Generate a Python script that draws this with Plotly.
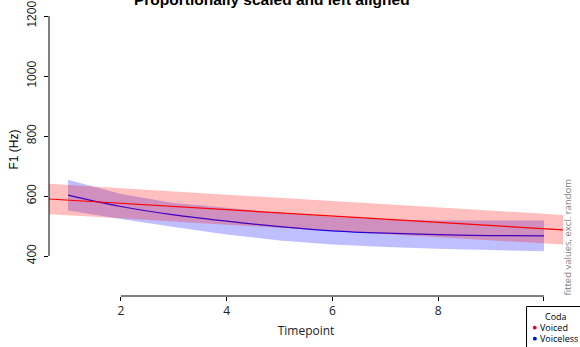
import plotly.graph_objects as go

# ---- data ----
red_t = [0.64, 2, 4, 6, 8, 10.36]
red_fit = [590, 575.6, 554.4, 533.2, 512, 487]
red_upper = [641, 625.6, 604.4, 583.2, 562, 537]
red_lower = [539, 525.6, 504.4, 483.2, 462, 438]

blue_t = [1, 2, 3, 4, 5, 6, 7, 8, 9, 10]
blue_fit = [603, 565, 537, 516, 498, 484, 476, 471, 468, 467]
blue_upper = [654, 607, 577, 560, 544, 530, 522, 518, 517, 518]
blue_lower = [552, 523, 497, 472, 452, 438, 430, 424, 419, 416]

x_ticks = [2, 4, 6, 8, 10]
y_ticks = [400, 600, 800, 1000, 1200]
legend_title = "Coda"
legend_labels = ["Voiced", "Voiceless"]
colors = ["#ff0000", "#0000ff"]

W, H = 580, 347
L, R, T, B = 49, 563.5, 16, 296

def px(xp):
    return (xp - L) / (R - L)

def py(yp):
    return (B - yp) / (B - T)

fig = go.Figure()

# blue band + line
fig.add_trace(go.Scatter(x=blue_t + blue_t[::-1], y=blue_upper + blue_lower[::-1],
                         fill="toself", fillcolor="rgba(0,0,255,0.25)",
                         line=dict(width=0), mode="lines", hoverinfo="skip", showlegend=False))
fig.add_trace(go.Scatter(x=blue_t, y=blue_fit, mode="lines", line_shape="spline",
                         line=dict(color=colors[1], width=1.2), name=legend_labels[1], showlegend=False))
# red band + line
fig.add_trace(go.Scatter(x=red_t + red_t[::-1], y=red_upper + red_lower[::-1],
                         fill="toself", fillcolor="rgba(255,0,0,0.25)",
                         line=dict(width=0), mode="lines", hoverinfo="skip", showlegend=False))
fig.add_trace(go.Scatter(x=red_t, y=red_fit, mode="lines",
                         line=dict(color=colors[0], width=1.2), name=legend_labels[0], showlegend=False))

shapes = [
    dict(type="line", xref="paper", yref="y", x0=0, x1=0, y0=y_ticks[0], y1=y_ticks[-1],
         line=dict(color="black", width=1)),
    dict(type="line", xref="x", yref="paper", x0=x_ticks[0], x1=x_ticks[-1], y0=0, y1=0,
         line=dict(color="black", width=1)),
    dict(type="rect", xref="paper", yref="paper", x0=px(527), x1=px(600), y0=py(306.5), y1=py(370),
         fillcolor="white", line=dict(color="black", width=1), layer="above"),
]

annotations = [
    dict(text="<b>Proportionally scaled and left aligned</b>", xref="paper", yref="paper",
         x=px(272), y=py(-1), xanchor="center", yanchor="middle", showarrow=False,
         font=dict(family="Liberation Sans", size=15.5, color="black")),
    dict(text="F1 (Hz)", xref="paper", yref="paper", x=px(13), y=py(149.5),
         xanchor="center", yanchor="middle", textangle=-90, showarrow=False,
         font=dict(family="Liberation Sans", size=12, color="black")),
    dict(text="fitted values, excl. random", xref="paper", yref="paper", x=px(568), y=py(237),
         xanchor="center", yanchor="middle", textangle=-90, showarrow=False,
         font=dict(family="Open Sans", size=9.5, color="#808080")),
    dict(text=legend_title, xref="paper", yref="paper", x=px(556), y=py(315.5),
         xanchor="center", yanchor="middle", showarrow=False, borderpad=0, height=10,
         font=dict(family="Open Sans", size=9, color="black")),
]
for i, (lab, col) in enumerate(zip(legend_labels, colors)):
    yy = 326.5 + i * 11
    annotations.append(dict(text="●", xref="paper", yref="paper", x=px(535.5), y=py(yy),
                            xanchor="center", yanchor="middle", showarrow=False, borderpad=0,
                            width=4, height=8,
                            font=dict(family="DejaVu Sans", size=5, color=col)))
    annotations.append(dict(text=lab, xref="paper", yref="paper", x=px(539.5), y=py(yy),
                            xanchor="left", yanchor="middle", showarrow=False, borderpad=0,
                            height=10, align="left",
                            font=dict(family="Open Sans", size=9, color="black")))

fig.update_layout(
    width=W, height=H,
    margin=dict(l=L, r=W - R, t=T, b=H - B, pad=0, autoexpand=False),
    plot_bgcolor="white", paper_bgcolor="white",
    shapes=shapes, annotations=annotations,
    xaxis=dict(range=[0.64, 10.36], tickvals=x_ticks, ticktext=[str(v) for v in x_ticks],
               ticks="outside", ticklen=4, tickcolor="black", showgrid=False, zeroline=False,
               showline=False, automargin=False,
               tickfont=dict(family="Open Sans", size=12, color="#222"),
               title=dict(text="Timepoint", font=dict(family="Open Sans", size=12, color="#222"),
                          standoff=8)),
    yaxis=dict(range=[266.67, 1200], tickvals=y_ticks, ticktext=[str(v) for v in y_ticks],
               ticks="outside", ticklen=4, tickcolor="black", showgrid=False, zeroline=False,
               showline=False, tickangle=-90, ticklabelstandoff=3, automargin=False,
               tickfont=dict(family="Liberation Sans", size=12, color="#222")),
    showlegend=False,
)

fig.write_html("out.html", config={"displayModeBar": False},
               post_script="document.body.style.margin='0px';")
